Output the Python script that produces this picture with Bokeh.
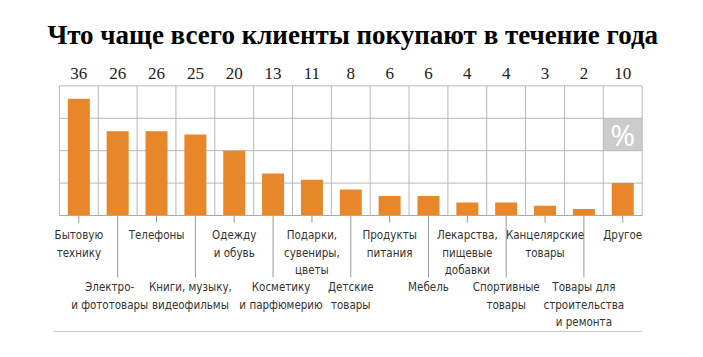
from bokeh.plotting import figure
from bokeh.models import ColumnDataSource, Range1d
from bokeh.core.properties import value
from bokeh.embed import file_html
from bokeh.resources import INLINE

title = "Что чаще всего клиенты покупают в течение года"
categories = [
    "Бытовую\nтехнику",
    "Электро-\nи фототовары",
    "Телефоны",
    "Книги, музыку,\nвидеофильмы",
    "Одежду\nи обувь",
    "Косметику\nи парфюмерию",
    "Подарки,\nсувениры,\nцветы",
    "Детские\nтовары",
    "Продукты\nпитания",
    "Мебель",
    "Лекарства,\nпищевые\nдобавки",
    "Спортивные\nтовары",
    "Канцелярские\nтовары",
    "Товары для\nстроительства\nи ремонта",
    "Другое",
]
values = [36, 26, 26, 25, 20, 13, 11, 8, 6, 6, 4, 4, 3, 2, 10]
grid_values = [0, 10, 20, 30, 40]

n = len(values)
xs = list(range(n))
ymax = grid_values[-1]

p = figure(width=687, height=341, output_backend="svg", toolbar_location=None,
           x_range=Range1d(-2.016, 15.667), y_range=Range1d(-38.89, 66.36),
           min_border=0)
p.axis.visible = False
p.grid.visible = False
p.outline_line_color = None
p.background_fill_color = "white"
p.border_fill_color = "white"

grid_color = "#b8b8b8"
left, right = -0.5, n - 0.5

# percent box in last column
p.quad(left=[n - 1.5], right=[n - 0.5], bottom=[grid_values[2]], top=[grid_values[3]],
       fill_color="#cccccc", line_color=None)
p.text(x=[n - 1], y=[(grid_values[2] + grid_values[3]) / 2], text=["%"],
       text_color="white", text_font=value("Open Sans"), text_font_style="normal",
       text_font_size="30px", text_align="center", text_baseline="middle")

# vertical grid lines
vx = [i - 0.5 for i in range(n + 1)]
p.segment(x0=vx, x1=vx, y0=[0] * len(vx), y1=[ymax] * len(vx),
          line_color=grid_color, line_width=1)
# horizontal grid lines
p.segment(x0=[left] * len(grid_values), x1=[right] * len(grid_values),
          y0=grid_values, y1=grid_values, line_color=grid_color, line_width=1)

# bars
src = ColumnDataSource(dict(x=xs, top=values, lab=[str(v) for v in values]))
p.vbar(x="x", top="top", bottom=0, width=0.566, source=src,
       fill_color="#e8862a", line_color=None)

# baseline
p.segment(x0=[left], x1=[right], y0=[0], y1=[0], line_color="#aaaaaa", line_width=1.2)

# leader lines
even = [i for i in xs if i % 2 == 0]
odd = [i for i in xs if i % 2 == 1]
p.segment(x0=even, x1=even, y0=[0] * len(even), y1=[-2.2] * len(even),
          line_color="#999999", line_width=1)
p.segment(x0=odd, x1=odd, y0=[0] * len(odd), y1=[-19.1] * len(odd),
          line_color="#999999", line_width=1)

# value labels
p.text(x="x", y=43.8, text="lab", source=src, text_font=value("Liberation Serif"),
       text_font_size="17px", text_color="#222222", text_align="center",
       text_baseline="middle")

# category labels (small pixel nudges on a few lower labels to avoid collisions)
lab_font = value("DejaVu Sans Condensed")
nudge = {1: -8, 3: -5, 5: 8}
p.text(x=even, y=[-4.0] * len(even), text=[categories[i] for i in even],
       text_font=lab_font, text_font_size="11.5px", text_color="#333333",
       text_align="center", text_baseline="top", text_line_height=1.25)
p.text(x=odd, y=[-20.0] * len(odd), text=[categories[i] for i in odd],
       x_offset=[nudge.get(i, 0) for i in odd],
       text_font=lab_font, text_font_size="11.5px", text_color="#333333",
       text_align="center", text_baseline="top", text_line_height=1.25)

# bottom rule
p.segment(x0=[-0.65], x1=[right], y0=[-35.8], y1=[-35.8], line_color="#c8c8c8", line_width=1.2)

# title
p.text(x=[(left + right) / 2 + 0.05], y=[55.6], text=[title],
       text_font=value("Liberation Serif"), text_font_style="bold",
       text_font_size="27px", text_color="black", text_align="center",
       text_baseline="middle")

open("out.html", "w").write(file_html(p, INLINE))
